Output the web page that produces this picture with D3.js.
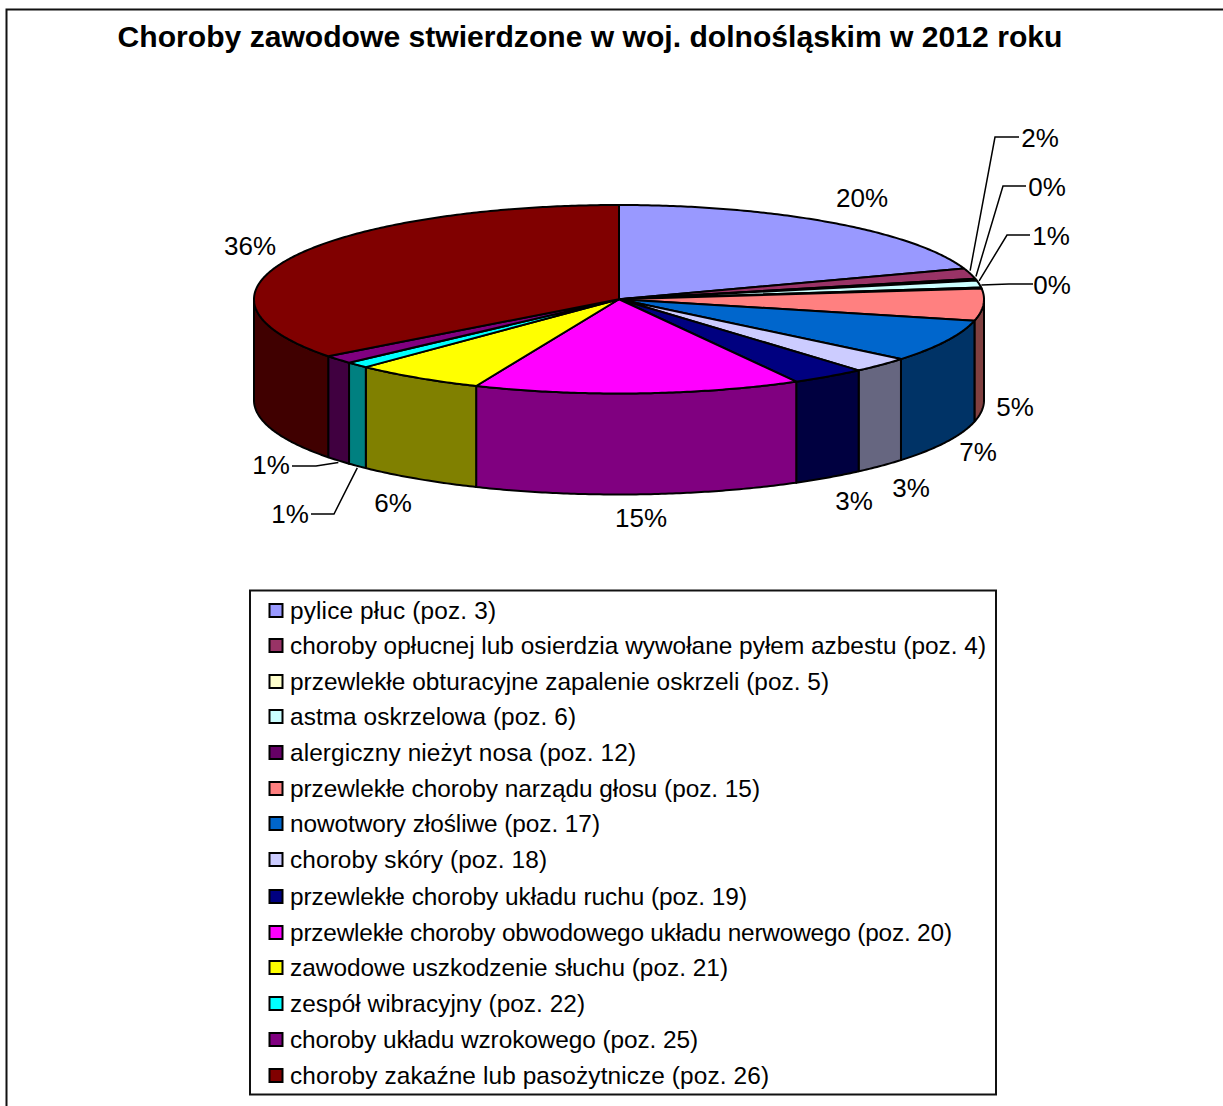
<!DOCTYPE html>
<html lang="pl">
<head>
<meta charset="utf-8">
<title>Choroby zawodowe</title>
<script src="https://cdn.jsdelivr.net/npm/d3@7"></script>
<style>
html,body{margin:0;padding:0;background:#fff;overflow:hidden}
svg{display:block}
text{font-family:"Liberation Sans",Arial,sans-serif;fill:#000}
</style>
</head>
<body>
<script>
const titleText = "Choroby zawodowe stwierdzone w woj. dolnośląskim w 2012 roku";
const categories = [
  "pylice płuc (poz. 3)",
  "choroby opłucnej lub osierdzia wywołane pyłem azbestu (poz. 4)",
  "przewlekłe obturacyjne zapalenie oskrzeli (poz. 5)",
  "astma oskrzelowa (poz. 6)",
  "alergiczny nieżyt nosa (poz. 12)",
  "przewlekłe choroby narządu głosu (poz. 15)",
  "nowotwory złośliwe (poz. 17)",
  "choroby skóry (poz. 18)",
  "przewlekłe choroby układu ruchu (poz. 19)",
  "przewlekłe choroby obwodowego układu nerwowego (poz. 20)",
  "zawodowe uszkodzenie słuchu (poz. 21)",
  "zespół wibracyjny (poz. 22)",
  "choroby układu wzrokowego (poz. 25)",
  "choroby zakaźne lub pasożytnicze (poz. 26)"
];
const shares = [19.7, 1.8, 0.3, 1.2, 0.2, 5.45, 7.3, 2.65, 3.33, 14.47, 5.8, 1.05, 1.42, 35.33];
const percentLabels = ["20%","2%","0%","1%","0%","5%","7%","3%","3%","15%","6%","1%","1%","36%"];
const topColors = ["#9999FF","#993366","#FFFFCC","#CCFFFF","#660066","#FF8080","#0066CC","#CCCCFF","#000080","#FF00FF","#FFFF00","#00FFFF","#800080","#800000"];
const sideColors = ["#4C4C80","#4C1933","#808066","#668080","#330033","#804040","#003366","#666680","#000040","#800080","#808000","#008080","#400040","#400000"];

// layout of the percentage labels (centre x, centre y) and optional leader elbow/end
const labelLayout = [
  {x:862,y:198},
  {x:1040,y:138,elbow:[995,137],end:[1019,137],edge:"top"},
  {x:1047,y:187,elbow:[1003,186],end:[1026,186],edge:"top"},
  {x:1051,y:236,elbow:[1007,235],end:[1030,235],edge:"top"},
  {x:1052,y:285,elbow:[1009,284],end:[1033,284],edge:"top"},
  {x:1015,y:407},
  {x:978,y:452},
  {x:911,y:488},
  {x:854,y:501},
  {x:641,y:518},
  {x:393,y:503},
  {x:290,y:514,elbow:[334,514],end:[311,514],edge:"bottom"},
  {x:271,y:465,elbow:[316,466],end:[292,466],edge:"bottom"},
  {x:250,y:246}
];
const legendRowCentres = [611,646,682,717,753,789,824,860,897,933,968,1004,1040,1076];
const legendTextWidths = [206,696,539,286,346,470,310,257,457,662,438,295,408,479];

const W = 1223, H = 1106;
const depth = 101;
const sx = d3.scaleLinear().domain([-1,1]).range([254,984]);
const sy = d3.scaleLinear().domain([-1,1]).range([205,393.5]);
const px = a => sx(Math.sin(a));
const py = a => sy(-Math.cos(a));

const svg = d3.select("body").append("svg").attr("width",W).attr("height",H).attr("viewBox",`0 0 ${W} ${H}`);

// outer frame
svg.append("path").attr("d",`M6.5,${H} V9.5 H${W}`).attr("fill","none").attr("stroke","#111").attr("stroke-width",2);

// title
svg.append("text").attr("x",590).attr("y",36.5).attr("dy",".35em").attr("text-anchor","middle")
  .attr("font-size",30.1).attr("font-weight","bold").text(titleText);

const pieData = d3.pie().sort(null).value(d=>d)(shares);
const samples = (a0,a1) => {
  const n = Math.max(2,Math.ceil((a1-a0)/0.01));
  return d3.range(n+1).map(i=>a0+(a1-a0)*i/n);
};
const line = d3.line();

// sides: only the front half of the cylinder is visible
const gSide = svg.append("g");
pieData.forEach((d,i)=>{
  const a0 = Math.max(d.startAngle,Math.PI/2), a1 = Math.min(d.endAngle,Math.PI*1.5);
  if(a1<=a0) return;
  const upper = samples(a0,a1).map(a=>[px(a),py(a)]);
  const lower = samples(a0,a1).reverse().map(a=>[px(a),py(a)+depth]);
  gSide.append("path").attr("d",line(upper.concat(lower))+"Z")
    .attr("fill",sideColors[i]).attr("stroke","#000").attr("stroke-width",2).attr("stroke-linejoin","round");
});

// top surface
const gTop = svg.append("g");
pieData.forEach((d,i)=>{
  const pts = [[sx(0),sy(0)]].concat(samples(d.startAngle,d.endAngle).map(a=>[px(a),py(a)]));
  gTop.append("path").attr("d",line(pts)+"Z")
    .attr("fill",topColors[i]).attr("stroke","#000").attr("stroke-width",2).attr("stroke-linejoin","round");
});

// percentage labels + leader lines
const gLab = svg.append("g");
pieData.forEach((d,i)=>{
  const L = labelLayout[i];
  const mid = (d.startAngle+d.endAngle)/2;
  if(L.elbow){
    const start = L.edge==="top" ? [px(mid),py(mid)-3] : [px(mid),py(mid)+depth+2];
    gLab.append("path").attr("d",line([start,L.elbow,L.end]))
      .attr("fill","none").attr("stroke","#000").attr("stroke-width",1.5);
  }
  gLab.append("text").attr("x",L.x).attr("y",L.y).attr("dy",".35em").attr("text-anchor","middle")
    .attr("font-size",26).text(percentLabels[i]);
});

// legend
const legend = svg.append("g");
legend.append("rect").attr("x",250).attr("y",590.5).attr("width",746).attr("height",504)
  .attr("fill","#fff").attr("stroke","#111").attr("stroke-width",2);
const rowY = d3.scaleOrdinal().domain(categories).range(legendRowCentres);
categories.forEach((c,i)=>{
  const y = rowY(c);
  legend.append("rect").attr("x",269.5).attr("y",y-7).attr("width",13).attr("height",13)
    .attr("fill",topColors[i]).attr("stroke","#000").attr("stroke-width",2);
  legend.append("text").attr("x",290).attr("y",y-0.5).attr("dy",".35em")
    .attr("font-size",24.4).attr("textLength",legendTextWidths[i]).attr("lengthAdjust","spacing").text(c);
});
</script>
</body>
</html>
